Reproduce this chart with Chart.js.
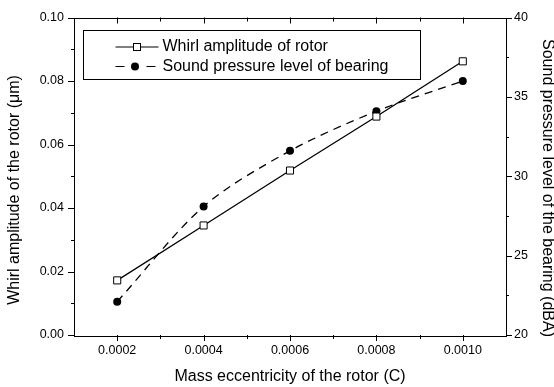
<!DOCTYPE html>
<html>
<head>
<meta charset="utf-8">
<script src="https://cdn.jsdelivr.net/npm/chart.js@4.4.1/dist/chart.umd.min.js"></script>
<style>
  html, body { margin: 0; padding: 0; background: #fff; }
  canvas { display: block; }
</style>
</head>
<body>
<canvas id="rotorChart" width="554" height="387"></canvas>
<script>
// data
const eccentricity = [0.0002, 0.0004, 0.0006, 0.0008, 0.0010];
const whirlAmplitude = [0.0172, 0.0345, 0.0518, 0.0688, 0.0862];
const soundPressure = [22.1, 28.1, 31.6, 34.1, 36.0];

const xTicks = [0.0002, 0.0004, 0.0006, 0.0008, 0.0010];
const xMinorTicks = [0.0003, 0.0005, 0.0007, 0.0009];
const leftTicks = [0, 0.02, 0.04, 0.06, 0.08, 0.10];
const leftMinorTicks = [0.01, 0.03, 0.05, 0.07, 0.09];
const rightTicks = [20, 25, 30, 35, 40];
const rightMinorTicks = [22.5, 27.5, 32.5, 37.5];

const seriesNames = ['Whirl amplitude of rotor', 'Sound pressure level of bearing'];
const leftTitle = 'Whirl amplitude of the rotor (\u03bcm)';
const rightTitle = 'Sound pressure level of the bearing (dBA)';

const FONT = 'Liberation Sans, Arial, sans-serif';

// frame, inward/outward ticks (incl. minor ones)
const frameTicks = {
    id: 'frameTicks',
    afterDraw(chart) {
        const ctx = chart.ctx;
        const a = chart.chartArea;
        const x = chart.scales.x, yl = chart.scales.y, yr = chart.scales.y2;
        ctx.save();
        ctx.strokeStyle = '#000';
        ctx.lineWidth = 1;
        ctx.strokeRect(Math.round(a.left) + 0.5, Math.round(a.top) + 0.5,
            Math.round(a.right - a.left), Math.round(a.bottom - a.top));
        ctx.beginPath();
        const hx = (v, len) => {
            const px = Math.round(x.getPixelForValue(v)) + 0.5;
            ctx.moveTo(px, a.bottom); ctx.lineTo(px, a.bottom + len);
            ctx.moveTo(px, a.top); ctx.lineTo(px, a.top + len);
        };
        xTicks.forEach(v => hx(v, 6));
        xMinorTicks.forEach(v => hx(v, 4));
        const vl = (v, len) => {
            const py = Math.round(yl.getPixelForValue(v)) + 0.5;
            ctx.moveTo(a.left, py); ctx.lineTo(a.left - len, py);
        };
        leftTicks.forEach(v => vl(v, 6));
        leftMinorTicks.forEach(v => vl(v, 3));
        const vr = (v, len) => {
            const py = Math.round(yr.getPixelForValue(v)) + 0.5;
            ctx.moveTo(a.right, py); ctx.lineTo(a.right + len, py);
        };
        rightTicks.forEach(v => vr(v, 6));
        rightMinorTicks.forEach(v => vr(v, 3));
        ctx.stroke();

        // y axis titles, sitting a bit below the plot's middle like the original
        ctx.fillStyle = '#000';
        ctx.font = '16px ' + FONT;
        ctx.textAlign = 'center';
        ctx.textBaseline = 'middle';
        ctx.save();
        ctx.translate(15, 190);
        ctx.rotate(-Math.PI / 2);
        ctx.fillText(leftTitle, 0, 0);
        ctx.restore();
        ctx.save();
        ctx.translate(547, 188);
        ctx.rotate(Math.PI / 2);
        ctx.fillText(rightTitle, 0, 0);
        ctx.restore();
        ctx.restore();
    }
};

// boxed legend in the upper left of the plot
const boxLegend = {
    id: 'boxLegend',
    afterDraw(chart) {
        const ctx = chart.ctx;
        const a = chart.chartArea;
        const bx = Math.round(a.left + 9) + 0.5, by = Math.round(a.top + 12) + 0.5, bw = 337, bh = 49;
        ctx.save();
        ctx.fillStyle = '#fff';
        ctx.fillRect(bx, by, bw, bh);
        ctx.strokeStyle = '#000';
        ctx.lineWidth = 1;
        ctx.strokeRect(bx, by, bw, bh);

        const sx = bx + 32, ex = bx + 75, mx = (sx + ex) / 2;
        const row1 = by + 16.5, row2 = by + 36;
        ctx.lineWidth = 1.2;
        // solid line + open square
        ctx.beginPath();
        ctx.moveTo(sx, row1); ctx.lineTo(ex, row1);
        ctx.stroke();
        ctx.fillStyle = '#fff';
        ctx.fillRect(mx - 3.5, row1 - 3.5, 7, 7);
        ctx.lineWidth = 1;
        ctx.strokeRect(mx - 3.5, row1 - 3.5, 7, 7);
        // dashes + filled circle
        ctx.lineWidth = 1.2;
        ctx.beginPath();
        ctx.moveTo(sx, row2); ctx.lineTo(sx + 9, row2);
        ctx.moveTo(ex - 12, row2); ctx.lineTo(ex - 3, row2);
        ctx.stroke();
        ctx.fillStyle = '#000';
        ctx.beginPath();
        ctx.arc(mx - 2, row2, 4, 0, Math.PI * 2);
        ctx.fill();

        ctx.font = '16px ' + FONT;
        ctx.textBaseline = 'middle';
        ctx.textAlign = 'left';
        ctx.fillText(seriesNames[0], ex + 4, row1);
        ctx.fillText(seriesNames[1], ex + 4, row2);
        ctx.restore();
    }
};

const ctxLine = document.getElementById('rotorChart');
new Chart(ctxLine, {
    type: 'line',
    data: {
        datasets: [
            {
                label: seriesNames[0],
                data: eccentricity.map((e, i) => ({ x: e, y: whirlAmplitude[i] })),
                yAxisID: 'y',
                borderColor: '#000',
                borderWidth: 1.3,
                backgroundColor: '#fff',
                pointStyle: 'rect',
                pointRadius: 5,
                pointBorderWidth: 1,
                pointBorderColor: '#000',
                tension: 0
            },
            {
                label: seriesNames[1],
                data: eccentricity.map((e, i) => ({ x: e, y: soundPressure[i] })),
                yAxisID: 'y2',
                borderColor: '#000',
                borderWidth: 1.3,
                borderDash: [8, 6],
                backgroundColor: '#000',
                pointStyle: 'circle',
                pointRadius: 4,
                pointBorderWidth: 0,
                tension: 0.3
            }
        ]
    },
    options: {
        responsive: false,
        devicePixelRatio: 1,
        animation: false,
        layout: { padding: { top: 16, left: 0, right: 0, bottom: 0 } },
        plugins: {
            legend: { display: false },
            tooltip: { enabled: false }
        },
        scales: {
            x: {
                type: 'linear',
                min: 0.0001,
                max: 0.0011,
                afterBuildTicks: s => { s.ticks = xTicks.map(v => ({ value: v })); },
                afterFit: s => { s.height = 52; },
                grid: { display: false, drawTicks: false },
                border: { display: false },
                ticks: {
                    padding: 8,
                    color: '#000',
                    font: { family: FONT, size: 12.5 },
                    maxRotation: 0,
                    callback: v => v.toFixed(4)
                },
                title: {
                    display: true,
                    text: 'Mass eccentricity of the rotor (C)',
                    color: '#000',
                    font: { family: FONT, size: 16, lineHeight: 1 },
                    padding: { top: 0, bottom: 2 }
                }
            },
            y: {
                position: 'left',
                min: 0,
                max: 0.10,
                afterBuildTicks: s => { s.ticks = leftTicks.map(v => ({ value: v })); },
                afterFit: s => { s.width = 74; },
                grid: { display: false, drawTicks: false },
                border: { display: false },
                ticks: {
                    padding: 10,
                    color: '#000',
                    font: { family: FONT, size: 12.5 },
                    callback: v => v.toFixed(2)
                }
            },
            y2: {
                position: 'right',
                min: 20,
                max: 40,
                afterBuildTicks: s => { s.ticks = rightTicks.map(v => ({ value: v })); },
                afterFit: s => { s.width = 48; },
                grid: { display: false, drawTicks: false },
                border: { display: false },
                ticks: {
                    padding: 8,
                    color: '#000',
                    font: { family: FONT, size: 12.5 },
                    callback: v => String(v)
                }
            }
        }
    },
    plugins: [frameTicks, boxLegend]
});
</script>
</body>
</html>
